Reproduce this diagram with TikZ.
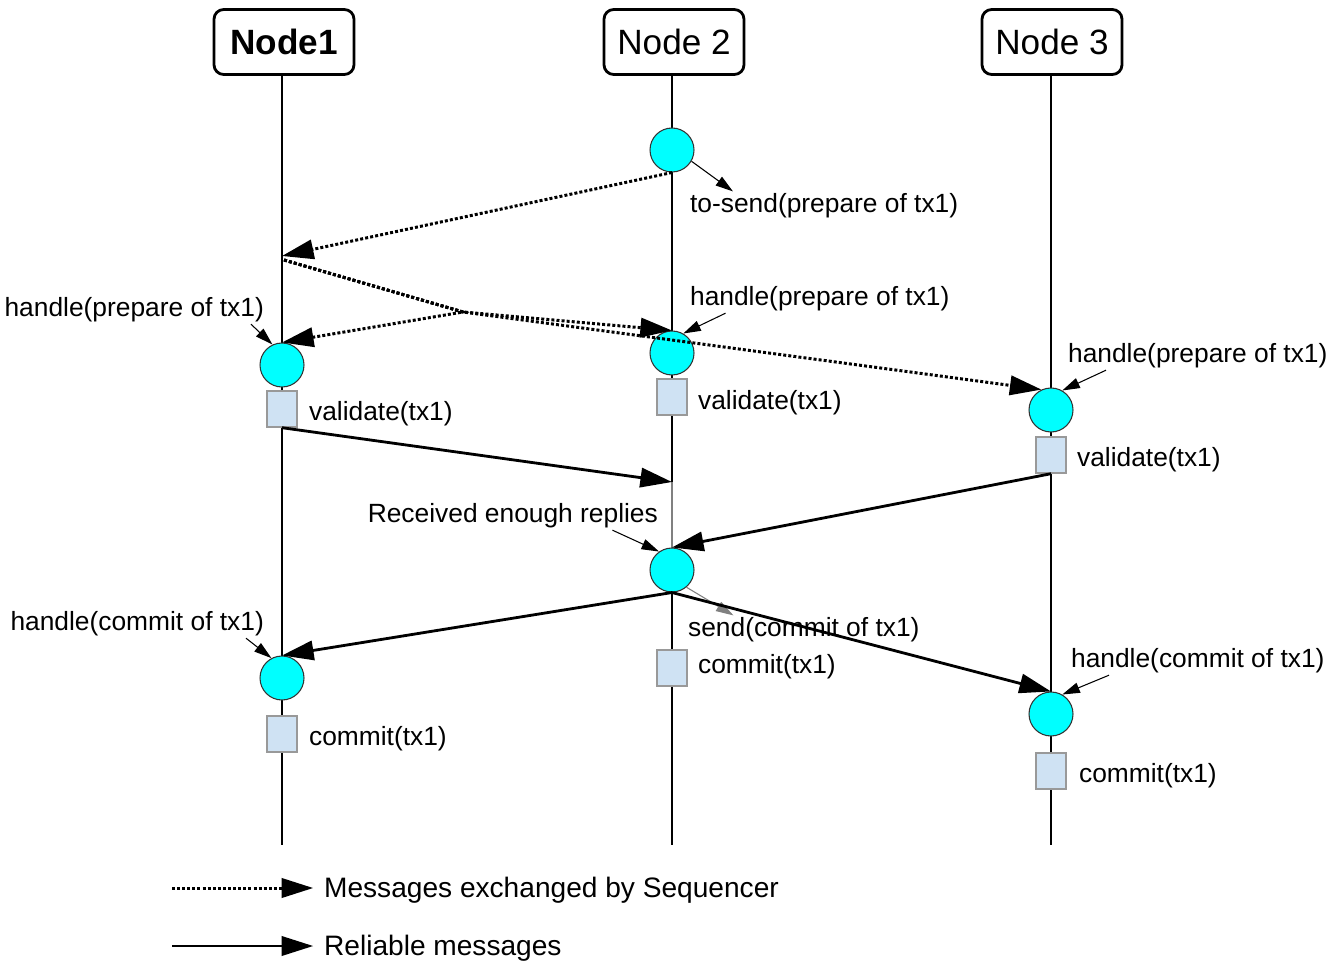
\documentclass[tikz,border=0pt]{standalone}
\usepackage{fontspec}
\setmainfont{Liberation Sans}
\usepackage{xcolor}
\usetikzlibrary{arrows.meta, positioning}
\definecolor{evfill}{HTML}{00FFFF}
\definecolor{boxfill}{HTML}{CFE2F3}
\definecolor{boxdraw}{HTML}{999999}

\begin{document}
\begin{tikzpicture}[
    x=0.02cm, y=-0.02cm,
    lifehead/.style={rectangle, draw=black, line width=1.6pt, rounded corners=5.5pt, minimum width=2.8cm, minimum height=1.3cm, inner sep=2pt, font=\fontsize{20}{24}\selectfont},
    lifeline/.style={line width=1.6pt},
    event/.style={circle, draw=black!80, fill=evfill, line width=0.6pt, minimum size=0.88cm, inner sep=0pt},
    action/.style={rectangle, draw=boxdraw, fill=boxfill, line width=0.8pt, minimum width=0.6cm, minimum height=0.72cm, inner sep=0pt},
    lbl/.style={inner sep=1pt, yshift=-1.6pt, font=\fontsize{15}{18}\selectfont},
    legend/.style={anchor=west, inner sep=1pt, yshift=-1.2pt, font=\fontsize{16}{19}\selectfont},
    seqmsg/.style={-{Triangle[length=18pt,width=11pt]}, line width=1.7pt, dash pattern=on 1.7pt off 1.2pt},
    relmsg/.style={-{Triangle[length=18pt,width=11pt]}, line width=1.6pt},
    pointer/.style={-{Triangle[length=10pt,width=6pt]}, line width=0.6pt}
]
\useasboundingbox (0,0) rectangle (1341,962);

% Lifelines
\node[lifehead] (n1) at (284,42) {\textbf{Node1}};
\node[lifehead] (n2) at (674,42) {Node 2};
\node[lifehead] (n3) at (1052,42) {Node 3};
\coordinate (n1end) at (282,845);
\coordinate (n2end) at (672,845);
\coordinate (n3end) at (1051,845);
\coordinate (n2mid) at (672,482);
\coordinate (n2gray) at (672,548);
\draw[lifeline] (n1.south -| n1end) -- (n1end);
\draw[lifeline] (n2.south -| n2end) -- (n2mid);
\draw[lifeline, gray] (n2mid) -- (n2gray);
\draw[lifeline] (n2gray) -- (n2end);
\draw[lifeline] (n3.south -| n3end) -- (n3end);

% Events
\node[event] (n2send) at (672,150) {};
\node[event] (n1prep) at (282,365) {};
\node[event] (n2prep) at (672,353) {};
\node[event] (n3prep) at (1051,410) {};
\node[event] (n2recv) at (672,570) {};
\node[event] (n1com) at (282,678) {};
\node[event] (n3com) at (1051,714) {};

% Actions
\node[action] (n1val) at (282,409) {};
\node[action] (n2val) at (672,397) {};
\node[action] (n3val) at (1051,455) {};
\node[action] (n2comb) at (672,668) {};
\node[action] (n1comb) at (282,734) {};
\node[action] (n3comb) at (1051,771) {};

% Labels
\node[lbl, anchor=west] (tsend) at (688,203) {to-send(prepare of tx1)};
\node[lbl, anchor=east] (h1prep) at (266,307) {handle(prepare of tx1)};
\node[lbl, anchor=west] (h2prep) at (688,296) {handle(prepare of tx1)};
\node[lbl, anchor=west] (h3prep) at (1066,353) {handle(prepare of tx1)};
\node[lbl, anchor=west] (v1) at (307,411) {validate(tx1)};
\node[lbl, anchor=west] (v2) at (696,400) {validate(tx1)};
\node[lbl, anchor=west] (v3) at (1075,457) {validate(tx1)};
\node[lbl, anchor=east] (recv) at (660,513) {Received enough replies};
\node[lbl, anchor=east] (h1com) at (266,621) {handle(commit of tx1)};
\node[lbl, anchor=west] (scom) at (686,627) {send(commit of tx1)};
\node[lbl, anchor=west] (h3com) at (1069,658) {handle(commit of tx1)};
\node[lbl, anchor=west] (c2) at (696,664) {commit(tx1)};
\node[lbl, anchor=west] (c1) at (307,736) {commit(tx1)};
\node[lbl, anchor=west] (c3) at (1077,773) {commit(tx1)};

% Label pointers
\draw[pointer] (n2send.-30) -- ([xshift=0.9cm]tsend.north west);
\draw[pointer] ([xshift=-0.3cm]h1prep.south east) -- (n1prep.115);
\draw[pointer] ([xshift=0.75cm]h2prep.south west) -- (n2prep.60);
\draw[pointer] ([xshift=0.8cm]h3prep.south west) -- (n3prep.60);
\draw[pointer] ([xshift=-0.95cm]recv.south east) -- (n2recv.125);
\draw[pointer] ([xshift=-0.4cm]h1com.south east) -- (n1com.118);
\draw[pointer] ([xshift=0.8cm]h3com.south west) -- (n3com.60);
\draw[pointer, gray] (n2recv.-50) -- ([xshift=0.95cm]scom.north west);

% Sequencer messages
\coordinate (seqin) at (282,256);
\coordinate (seqout) at (284,260);
\coordinate (fork) at (463,312);
\draw[seqmsg] (n2send.south) -- (seqin);
\draw[seqmsg] (seqout) -- (fork) -- (n1prep.north);
\draw[seqmsg] (seqout) -- (fork) -- (n2prep.north);
\draw[seqmsg] (seqout) -- (fork) -- (n3prep.115);

% Reliable messages
\draw[relmsg] (n1val.south) -- (n2mid);
\draw[relmsg] (n3val.south) -- (n2recv.north);
\draw[relmsg] (n2recv.south) -- (n1com.north);
\draw[relmsg] (n2recv.south) -- (n3com.north);

% Legend
\coordinate (lgseq) at (172,888);
\coordinate (lgrel) at (172,946);
\node[legend] (lgseqtxt) at (322,888) {Messages exchanged by Sequencer};
\node[legend] (lgreltxt) at (322,946) {Reliable messages};
\draw[seqmsg, shorten >=5pt] (lgseq) -- (lgseq -| lgseqtxt.west);
\draw[relmsg, shorten >=5pt] (lgrel) -- (lgrel -| lgreltxt.west);

\end{tikzpicture}
\end{document}
